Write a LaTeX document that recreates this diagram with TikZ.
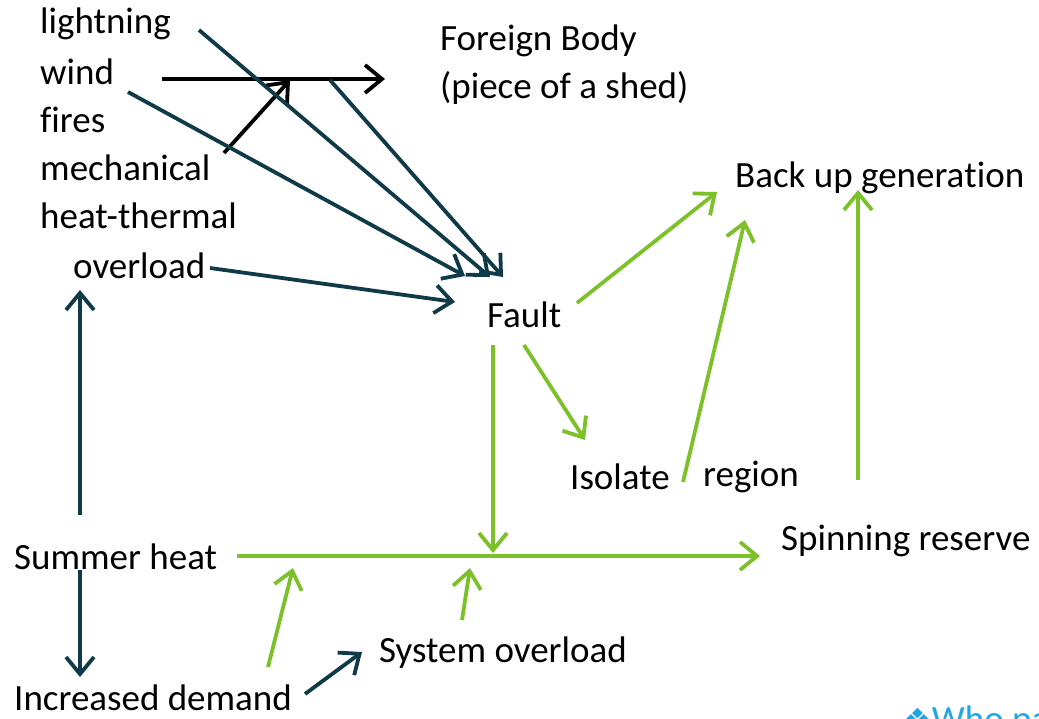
\documentclass[tikz,border=0pt]{standalone}
\usepackage{fontspec}
\setmainfont[Ligatures=NoCommon]{Carlito}
\newfontfamily\symbolfont{DejaVu Sans}
\usetikzlibrary{arrows.meta,positioning}
\definecolor{darkteal}{HTML}{0E3B47}
\definecolor{leafgreen}{HTML}{7CC02A}
\definecolor{logoblue}{HTML}{1BA8E6}

\begin{document}
\begin{tikzpicture}[x=1pt,y=-1pt,
    every node/.style={font=\fontsize{37}{46}\selectfont, inner sep=0pt, anchor=west},
    tealarrow/.style={-{Straight Barb[length=17pt,width=28pt]}, line width=3.8pt, darkteal},
    greenarrow/.style={-{Straight Barb[length=17pt,width=28pt]}, line width=3.8pt, leafgreen},
    blackarrow/.style={-{Straight Barb[length=17pt,width=28pt]}, line width=3.8pt, black}]
    \useasboundingbox (0,0) rectangle (1039,718);

    % causes
    \node (lightning) at (40,24) {lightning};
    \node (wind) at (40,72) {wind};
    \node (fires) at (40,120) {fires};
    \node (mech) at (40,168) {mechanical};
    \node (heat) at (40,216) {heat-thermal};
    \node (overload) at (73,266) {overload};
    \node (foreign) at (440,41) {Foreign Body};
    \node (shed) at (440,88) {(piece of a shed)};

    % effects
    \node (fault) at (487,315) {Fault};
    \node (backup) at (735,178) {Back up genera\kern0pt tion};
    \node (isolate) at (570,477) {Isolate};
    \node (region) at (703,477) {region};
    \node (summer) at (14,557) {Summer heat};
    \node (spinning) at (781,541) {Spinning reserve};
    \node (sysover) at (379,653) {System overload};
    \node (demand) at (14,698) {Increased demand};
    \node[text=logoblue] (logo) at (903,722) {{\symbolfont\fontsize{32}{36}\selectfont ❖}Who pa};

    % end points of the connectors
    \coordinate (lightning-out) at (199,30);
    \coordinate (wind-out) at (128,92);
    \coordinate (wind-line) at (162,79);
    \coordinate (shed-in) at (385,79);
    \coordinate (mech-out) at (224,153);
    \coordinate (junction) at (290,80);
    \coordinate (branch) at (330,80);
    \coordinate (fault-wind) at (465,276);
    \coordinate (fault-lightning) at (490,277);
    \coordinate (fault-branch) at (503,277);
    \coordinate (overload-out) at (210,268);
    \coordinate (fault-overload) at (455,302);
    \coordinate (summer-up) at (80,515);
    \coordinate (overload-in) at (80,290);
    \coordinate (summer-down) at (80,570);
    \coordinate (demand-in) at (80,677);
    \coordinate (demand-out) at (305,694);
    \coordinate (sysover-in) at (362,652);
    \coordinate (summer-out) at (237,556);
    \coordinate (spinning-in) at (760,556);
    \coordinate (fault-down) at (493,345);
    \coordinate (feed) at (493,553);
    \coordinate (demand-up) at (268,667);
    \coordinate (feed-demand) at (293,568);
    \coordinate (sysover-up) at (462,620);
    \coordinate (feed-sysover) at (470,568);
    \coordinate (fault-isolate) at (524,345);
    \coordinate (isolate-in) at (585,440);
    \coordinate (fault-backup) at (577,303);
    \coordinate (backup-fault) at (717,192);
    \coordinate (region-out) at (683,482);
    \coordinate (backup-region) at (745,220);
    \coordinate (spinning-out) at (858,480);
    \coordinate (backup-spinning) at (858,190);

    % foreign body
    \draw[blackarrow] (wind-line) -- (shed-in);
    \draw[blackarrow] (mech-out) -- (junction);

    % towards the fault
    \draw[tealarrow] (lightning-out) -- (fault-lightning);
    \draw[tealarrow] (wind-out) -- (fault-wind);
    \draw[tealarrow] (branch) -- (fault-branch);
    \draw[tealarrow] (overload-out) -- (fault-overload);
    \draw[tealarrow] (summer-up) -- (overload-in);
    \draw[tealarrow] (summer-down) -- (demand-in);
    \draw[tealarrow] (demand-out) -- (sysover-in);

    % responses
    \draw[greenarrow] (summer-out) -- (spinning-in);
    \draw[greenarrow] (fault-down) -- (feed);
    \draw[greenarrow] (demand-up) -- (feed-demand);
    \draw[greenarrow] (sysover-up) -- (feed-sysover);
    \draw[greenarrow] (fault-isolate) -- (isolate-in);
    \draw[greenarrow] (fault-backup) -- (backup-fault);
    \draw[greenarrow] (region-out) -- (backup-region);
    \draw[greenarrow] (spinning-out) -- (backup-spinning);
\end{tikzpicture}
\end{document}
